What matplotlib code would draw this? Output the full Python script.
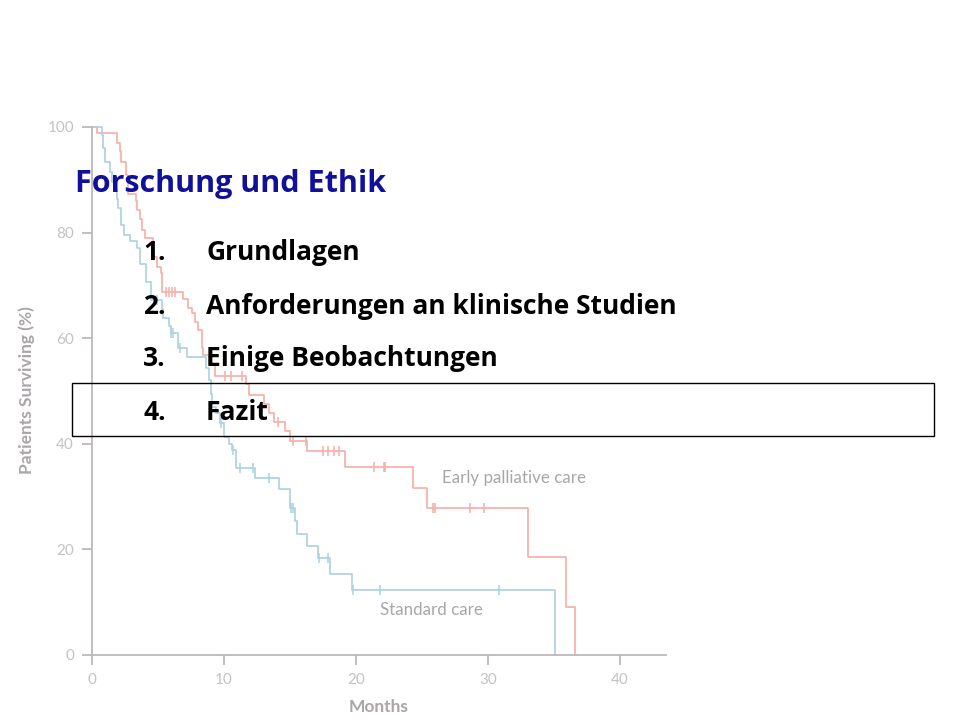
import numpy as np
import matplotlib.pyplot as plt
from matplotlib.patches import Rectangle

# ---- data ----
# early palliative care (step times in months, survival % after each step)
early_t = [0, 0.36, 1.87, 2.1, 2.2, 2.6, 2.75, 3.3, 3.38, 3.6, 3.75, 4.0, 4.65, 4.9,
           5.2, 5.28, 6.92, 7.3, 7.55, 7.8, 8.05, 8.31, 8.43, 8.9, 9.3, 11.7, 11.9,
           13.0, 13.4, 13.8, 14.6, 15.0, 16.3, 19.2, 24.3, 25.4, 33.0, 35.9, 36.6]
early_s = [100, 98.8, 96.9, 95.5, 93.4, 91.0, 87.4, 86.0, 84.3, 82.5, 80.5, 78.9, 75.4, 73.5,
           72.3, 68.8, 67.5, 65.7, 64.7, 63.1, 61.6, 58.1, 56.8, 55.2, 52.8, 51.3, 49.2,
           47.5, 45.8, 44.2, 42.5, 40.5, 38.6, 35.7, 31.7, 27.8, 18.6, 9.1, 0]
early_cens = [5.6, 5.85, 6.05, 6.3, 10.1, 10.5, 11.4, 14.1, 15.2, 16.2,
              17.5, 17.9, 18.3, 18.7, 21.4, 22.1, 22.2, 25.8, 26.0, 28.6, 29.7]

# standard care
std_t = [0, 0.73, 0.85, 0.98, 1.36, 1.5, 1.7, 1.87, 2.0, 2.2, 2.45, 2.9, 3.4, 3.6,
         4.1, 4.45, 5.3, 5.4, 5.8, 6.0, 6.5, 7.2, 8.6, 8.9, 9.0, 9.1, 9.4, 9.7,
         10.0, 10.4, 10.6, 10.9, 12.35, 14.2, 15.0, 15.4, 15.5, 16.3, 17.1, 18.0,
         19.7, 35.1]
std_s = [100, 98.5, 96.0, 93.4, 91.5, 89.5, 88.0, 86.4, 84.6, 81.4, 79.5, 78.5, 77.0, 74.0,
         70.7, 67.2, 65.5, 63.8, 62.3, 60.9, 58.1, 56.5, 54.3, 52.1, 49.5, 47.0, 45.8, 43.9,
         41.3, 40.0, 38.8, 35.4, 33.6, 31.5, 27.8, 25.3, 22.9, 20.7, 18.4, 15.3,
         12.3, 0]
std_cens = [4.9, 6.02, 6.15, 6.7, 9.8, 10.7, 11.2, 12.2, 13.4, 15.1, 15.25,
            17.2, 17.9, 19.8, 21.8, 30.8]

x_ticks = [0, 10, 20, 30, 40]
y_ticks = [0, 20, 40, 60, 80, 100]

title = "Forschung und Ethik"
items = ["Grundlagen", "Anforderungen an klinische Studien",
         "Einige Beobachtungen", "Fazit"]

# ---- colours ----
red = "#f6aea5"
blue = "#abd1e2"
axcol = "#bdb8bc"
lblcol = "#a9a5a9"


def level_at(times, surv, t):
    i = np.searchsorted(times, t, side="right") - 1
    return surv[i]


W, H = 960, 720
fig = plt.figure(figsize=(W / 100, H / 100), dpi=100)
ax = fig.add_axes([92 / W, 1 - 655 / H, (666 - 92) / W, (655 - 127) / H])

for tt, ss, cens, c in [(early_t, early_s, early_cens, red),
                        (std_t, std_s, std_cens, blue)]:
    ax.step(tt, ss, where="post", color=c, lw=1.2, clip_on=False)
    cy = [level_at(np.array(tt), np.array(ss), t) for t in cens]
    ax.plot(cens, cy, ls="none", marker="|", ms=7, mew=1.1, color=c, clip_on=False)

ax.set_xlim(0, (666 - 92) / 13.2)
ax.set_ylim(0, 100)
ax.set_xticks(x_ticks)
ax.set_yticks(y_ticks)
for s in ["top", "right"]:
    ax.spines[s].set_visible(False)
for s in ["left", "bottom"]:
    ax.spines[s].set_color(axcol)
    ax.spines[s].set_linewidth(1.3)
ax.tick_params(colors=axcol, length=7, width=1.3, labelsize=11,
               labelcolor="#c5c1c5", pad=6)
for lab in ax.get_xticklabels() + ax.get_yticklabels():
    lab.set_family("Lato")
ax.patch.set_alpha(0)

ax.text(0.5, -0.098, "Months", transform=ax.transAxes, ha="center", va="center",
        fontsize=12.5, color=lblcol, family="Lato", fontweight="bold")
fig.text(27 / W, 1 - 390 / H, "Patients Surviving (%)", rotation=90, ha="center",
         va="center", fontsize=12.5, color=lblcol, family="Lato", fontweight="bold")
fig.text(442 / W, 1 - 478 / H, "Early palliative care", ha="left", va="center",
         fontsize=12.2, color=lblcol, family="Lato")
fig.text(380 / W, 1 - 610 / H, "Standard care", ha="left", va="center",
         fontsize=12.2, color=lblcol, family="Lato")

# ---- slide text ----
fig.text(75 / W, 1 - 184 / H, title, ha="left", va="center", fontsize=22,
         color="#10109a", family="Open Sans", fontweight="bold")
item_y = [252, 306, 359, 413]
for k, (label, y) in enumerate(zip(items, item_y)):
    fig.text(143 / W, 1 - y / H, f"{k + 1}.", ha="left", va="center", fontsize=19,
             color="black", family="Open Sans", fontweight="bold")
    fig.text(206 / W, 1 - y / H, label, ha="left", va="center", fontsize=19,
             color="black", family="Open Sans", fontweight="bold")

fig.add_artist(Rectangle((72 / W, 1 - 436 / H), (934 - 72) / W, (436 - 383) / H,
                         transform=fig.transFigure, fill=False, ec="black", lw=1.0))

fig.savefig("out.png", dpi=100)
